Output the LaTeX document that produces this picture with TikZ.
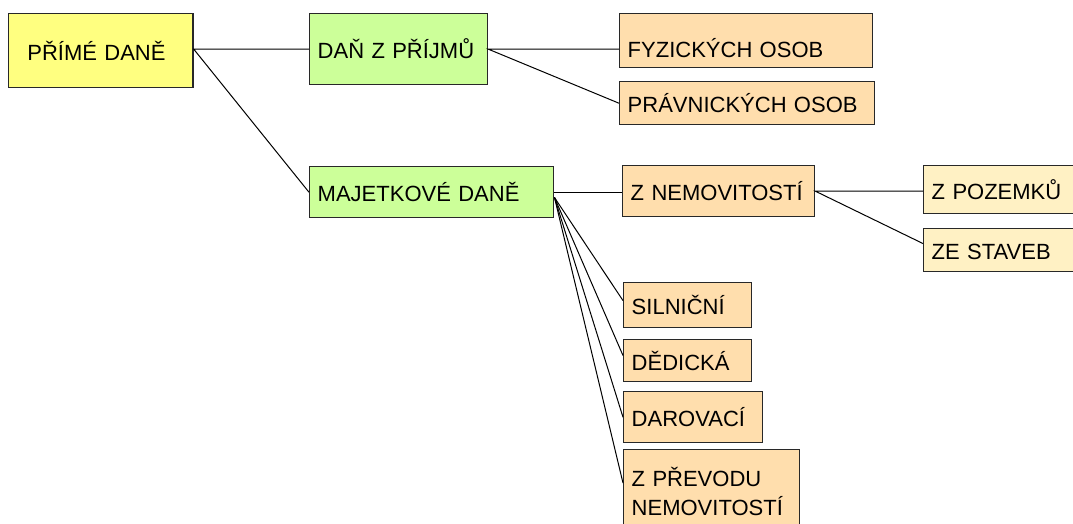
\documentclass[tikz,border=0pt]{standalone}
\usepackage{fontspec}
\setmainfont{Liberation Sans}
\usetikzlibrary{calc}

\definecolor{hlavni}{RGB}{255,255,128}
\definecolor{zelena}{RGB}{204,255,153}
\definecolor{oranzova}{RGB}{255,222,173}
\definecolor{svetla}{RGB}{255,241,196}
\definecolor{okraj}{RGB}{40,40,40}

\tikzset{every picture/.style={line width=0.75pt}}
\tikzset{
  box/.style={draw=okraj, line width=1.1pt, anchor=north west, align=left,
    inner xsep=6pt, text height=14pt, text depth=0pt,
    font=\fontsize{16.5}{21.75}\selectfont},
  spoj/.style={draw=black, line width=0.75pt}
}

\begin{document}
\begin{tikzpicture}[x=0.75pt,y=0.75pt,yscale=-1,xscale=1]
\useasboundingbox (0,0) rectangle (1073,524);
\fill[white] (0,0) rectangle (1073,524);

% Level 1
\node[box, fill=hlavni, inner xsep=14pt, text width=110.25pt, minimum height=55.5pt] (prime) at (8,13) {PŘÍMÉ DANĚ};
% Level 2
\node[box, fill=zelena, text width=121.5pt, minimum height=53.25pt] (prijmy) at (309,13) {DAŇ Z PŘÍJMŮ};
\node[box, fill=zelena, text width=171pt, minimum height=38.25pt] (majetek) at (309,166) {MAJETKOVÉ DANĚ};
% Level 3
\node[box, fill=oranzova, text width=177.75pt, minimum height=40.5pt, text height=24.5pt] (fyzicke) at (619,13) {FYZICKÝCH OSOB};
\node[box, fill=oranzova, text width=179.25pt, minimum height=32.25pt] (pravnicke) at (619,81) {PRÁVNICKÝCH OSOB};
\node[box, fill=oranzova, text width=132pt, minimum height=38.25pt] (nemovitosti) at (622,165) {Z NEMOVITOSTÍ};
\node[box, fill=oranzova, text width=84pt, minimum height=33.75pt] (silnicni) at (623,282) {SILNIČNÍ};
\node[box, fill=oranzova, text width=84pt, minimum height=31.5pt] (dedicka) at (623,339) {DĚDICKÁ};
\node[box, fill=oranzova, text width=92.25pt, minimum height=38.25pt] (darovaci) at (623,391) {DAROVACÍ};
\node[box, fill=oranzova, text width=120pt, inner ysep=13.7pt, text depth=28pt] (prevod) at (623,449) {Z PŘEVODU\\NEMOVITOSTÍ};
% Level 4
\node[box, fill=svetla, text width=108pt, minimum height=36pt] (pozemky) at (923,165) {Z POZEMKŮ};
\node[box, fill=svetla, text width=108pt, minimum height=32.25pt] (stavby) at (923,228) {ZE STAVEB};

% Connectors
\draw[spoj] (prijmy.west) -- (prijmy.west -| prime.east) -- (majetek.west);
\draw[spoj] (fyzicke.west |- prijmy.east) -- (prijmy.east) -- (pravnicke.west);
\draw[spoj] (nemovitosti.west |- majetek.east) -- (majetek.east);
\draw[spoj] (pozemky.west |- nemovitosti.east) -- (nemovitosti.east)
  -- ($(stavby.north west)!0.35!(stavby.south west)$);
\coordinate (vejir) at ($(majetek.east)!0.2!(majetek.south east)$);
\foreach \cil/\f in {silnicni/0.4, dedicka/0.38, darovaci/0.5}
  \draw[spoj] (vejir) -- ($(\cil.north west)!\f!(\cil.south west)$);
\draw[spoj] (vejir) -- ($(prevod.north west)+(0,34)$);

\end{tikzpicture}
\end{document}
